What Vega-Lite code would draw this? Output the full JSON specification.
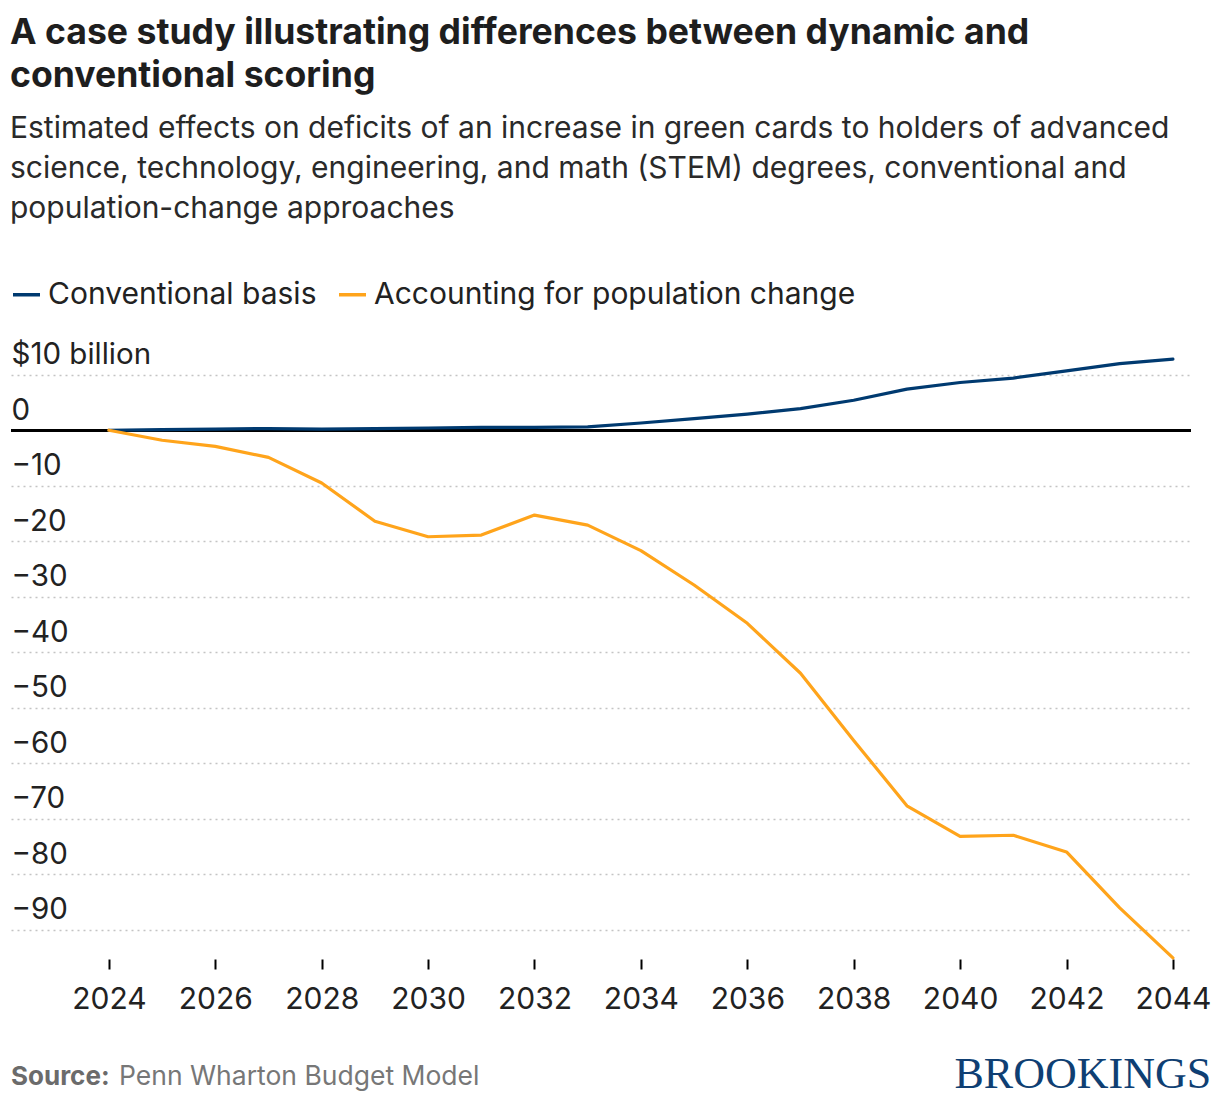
{
  "$schema": "https://vega.github.io/schema/vega-lite/v6.json",
  "width": 1180,
  "height": 612,
  "padding": {"left": 10, "right": 10, "top": 16, "bottom": 6},
  "background": "white",
  "config": {
    "font": "Inter",
    "view": {"stroke": null}
  },
  "title": {
    "text": ["A case study illustrating differences between dynamic and", "conventional scoring"],
    "subtitle": ["Estimated effects on deficits of an increase in green cards to holders of advanced", "science, technology, engineering, and math (STEM) degrees, conventional and", "population-change approaches"],
    "anchor": "start",
    "font": "Inter",
    "fontSize": 35.6,
    "fontWeight": 700,
    "color": "#1e1e1e",
    "lineHeight": 43,
    "subtitleFont": "Inter",
    "subtitleFontSize": 30,
    "subtitleColor": "#2a2a2a",
    "subtitleLineHeight": 40,
    "subtitlePadding": 19,
    "offset": 55
  },
  "data": {
    "values": [
      {"year": 2024, "series": "Conventional basis", "value": 0},
      {"year": 2025, "series": "Conventional basis", "value": 0.1},
      {"year": 2026, "series": "Conventional basis", "value": 0.2},
      {"year": 2027, "series": "Conventional basis", "value": 0.3},
      {"year": 2028, "series": "Conventional basis", "value": 0.2},
      {"year": 2029, "series": "Conventional basis", "value": 0.3},
      {"year": 2030, "series": "Conventional basis", "value": 0.4},
      {"year": 2031, "series": "Conventional basis", "value": 0.5},
      {"year": 2032, "series": "Conventional basis", "value": 0.5},
      {"year": 2033, "series": "Conventional basis", "value": 0.6},
      {"year": 2034, "series": "Conventional basis", "value": 1.3},
      {"year": 2035, "series": "Conventional basis", "value": 2.1},
      {"year": 2036, "series": "Conventional basis", "value": 2.9},
      {"year": 2037, "series": "Conventional basis", "value": 3.9},
      {"year": 2038, "series": "Conventional basis", "value": 5.4},
      {"year": 2039, "series": "Conventional basis", "value": 7.4},
      {"year": 2040, "series": "Conventional basis", "value": 8.6},
      {"year": 2041, "series": "Conventional basis", "value": 9.4},
      {"year": 2042, "series": "Conventional basis", "value": 10.7},
      {"year": 2043, "series": "Conventional basis", "value": 12.0},
      {"year": 2044, "series": "Conventional basis", "value": 12.8},
      {"year": 2024, "series": "Accounting for population change", "value": 0},
      {"year": 2025, "series": "Accounting for population change", "value": -1.8},
      {"year": 2026, "series": "Accounting for population change", "value": -2.9},
      {"year": 2027, "series": "Accounting for population change", "value": -4.9},
      {"year": 2028, "series": "Accounting for population change", "value": -9.5},
      {"year": 2029, "series": "Accounting for population change", "value": -16.4},
      {"year": 2030, "series": "Accounting for population change", "value": -19.2},
      {"year": 2031, "series": "Accounting for population change", "value": -18.9},
      {"year": 2032, "series": "Accounting for population change", "value": -15.3},
      {"year": 2033, "series": "Accounting for population change", "value": -17.1},
      {"year": 2034, "series": "Accounting for population change", "value": -21.7},
      {"year": 2035, "series": "Accounting for population change", "value": -27.9},
      {"year": 2036, "series": "Accounting for population change", "value": -34.8},
      {"year": 2037, "series": "Accounting for population change", "value": -43.8},
      {"year": 2038, "series": "Accounting for population change", "value": -55.9},
      {"year": 2039, "series": "Accounting for population change", "value": -67.7},
      {"year": 2040, "series": "Accounting for population change", "value": -73.2},
      {"year": 2041, "series": "Accounting for population change", "value": -73.0},
      {"year": 2042, "series": "Accounting for population change", "value": -76.0},
      {"year": 2043, "series": "Accounting for population change", "value": -86.1},
      {"year": 2044, "series": "Accounting for population change", "value": -95.1}
    ]
  },
  "layer": [
    {
      "mark": {"type": "rule", "color": "#000000", "strokeWidth": 2},
      "encoding": {
        "y": {"datum": 0, "type": "quantitative", "title": null, "scale": {"domain": [-95.3, 15]}}
      }
    },
    {
      "mark": {"type": "line", "strokeWidth": 3.2, "strokeCap": "round", "strokeJoin": "round"},
      "encoding": {
        "x": {
          "field": "year", "type": "quantitative", "title": null,
          "scale": {"domain": [2022.16, 2044.34], "nice": false, "zero": false},
          "axis": {
            "values": [2024, 2026, 2028, 2030, 2032, 2034, 2036, 2038, 2040, 2042, 2044],
            "format": "d",
            "domain": false, "grid": false,
            "ticks": true, "tickColor": "#000000", "tickWidth": 2, "tickSize": 10,
            "labelFontSize": 30, "labelColor": "#222222", "labelPadding": 15, "labelFont": "Inter"
          }
        },
        "y": {
          "field": "value", "type": "quantitative", "title": null,
          "scale": {"domain": [-95.3, 15], "nice": false, "zero": false},
          "axis": {
            "values": [-90, -80, -70, -60, -50, -40, -30, -20, -10, 0, 10],
            "labelExpr": "datum.value == 10 ? '$10 billion' : (datum.value < 0 ? '\u2212' + abs(datum.value) : '' + datum.value)",
            "domain": false, "ticks": false, "tickSize": 0,
            "grid": true, "gridDash": [2, 4], "gridColor": "#c4c4c4", "gridWidth": 1.5,
            "labelAlign": "left", "labelPadding": 0, "labelBaseline": "alphabetic", "labelOffset": -11,
            "labelFontSize": 29.5, "labelColor": "#222222", "labelFont": "Inter"
          }
        },
        "color": {
          "field": "series", "type": "nominal",
          "scale": {"domain": ["Conventional basis", "Accounting for population change"], "range": ["#003a70", "#ffa41b"]},
          "legend": {
            "title": null, "orient": "top", "direction": "horizontal",
            "symbolType": "stroke", "symbolSize": 729, "symbolStrokeWidth": 3.5,
            "labelFontSize": 30, "labelColor": "#222222", "labelFont": "Inter", "labelOffset": 6, "labelLimit": 0,
            "columnPadding": 15, "offset": 37, "padding": 0
          }
        }
      }
    },
    {
      "data": {"values": [{"t": "Source:"}]},
      "mark": {"type": "text", "align": "left", "baseline": "middle", "fontSize": 26, "fontWeight": 700, "color": "#6b6b6b", "font": "Inter"},
      "encoding": {
        "text": {"field": "t"},
        "x": {"datum": 2022.16, "type": "quantitative", "title": null},
        "y": {"datum": -116.6, "type": "quantitative", "title": null}
      }
    },
    {
      "data": {"values": [{"t": "Penn Wharton Budget Model"}]},
      "mark": {"type": "text", "align": "left", "baseline": "middle", "fontSize": 26.5, "color": "#777777", "font": "Inter"},
      "encoding": {
        "text": {"field": "t"},
        "x": {"datum": 2024.19, "type": "quantitative", "title": null},
        "y": {"datum": -116.6, "type": "quantitative", "title": null}
      }
    },
    {
      "data": {"values": [{"t": "BROOKINGS"}]},
      "mark": {"type": "text", "align": "right", "baseline": "middle", "fontSize": 44, "color": "#0f3f73", "font": "Liberation Serif"},
      "encoding": {
        "text": {"field": "t"},
        "x": {"datum": 2044.72, "type": "quantitative", "title": null},
        "y": {"datum": -116.2, "type": "quantitative", "title": null}
      }
    }
  ]
}
